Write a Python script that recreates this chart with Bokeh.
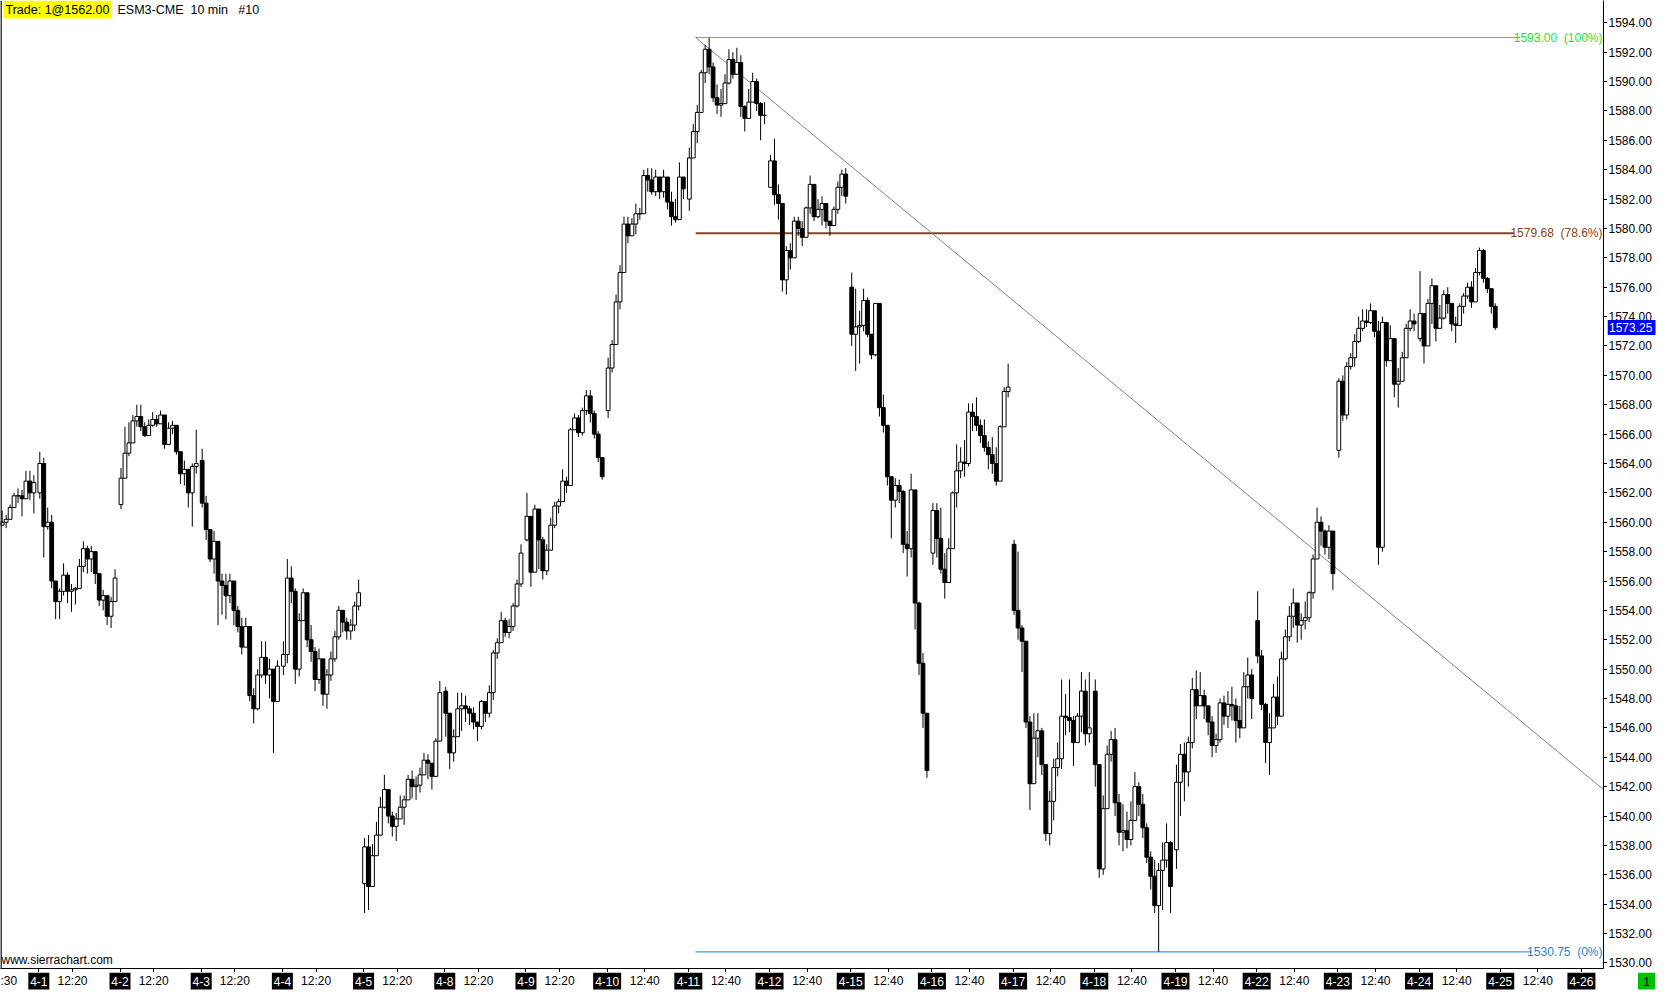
from bokeh.plotting import figure
from bokeh.layouts import column, row
from bokeh.models import Range1d, FixedTicker, Label, Span, ColumnDataSource
from bokeh.core.properties import value
from bokeh.embed import file_html
from bokeh.resources import INLINE

FONT = "Liberation Sans"

# x axis labels: one session label per trading day, plus one time label
day_names = ["4-1", "4-2", "4-3", "4-4", "4-5", "4-8", "4-9", "4-10", "4-11", "4-12",
             "4-15", "4-16", "4-17", "4-18", "4-19", "4-22", "4-23", "4-24", "4-25", "4-26"]
time_labels = ["12:20"] * 7 + ["12:40"] * 12
price_ticks = list(range(1530, 1596, 2))

# sessions drawn (3-28 only partly visible at the left edge)
sessions = ["3-28", "4-1", "4-2", "4-3", "4-4", "4-5", "4-8", "4-9", "4-10", "4-11",
            "4-12", "4-15", "4-16", "4-17", "4-18", "4-19", "4-22", "4-23", "4-24"]
first_slot = [11] + [0] * 18
n_slots = [9] + [20] * 18
day_open = [1559.8, 1562.0, 1561.2, 1564.2, 1550.2, 1535.4, 1548.5, 1558.8, 1567.6, 1582.0,
            1582.8, 1576.0, 1557.9, 1558.5, 1548.5, 1537.7, 1553.3, 1564.9, 1572.5]

close = [
    # 3-28
    1560.0, 1560.2, 1561.0, 1561.8, 1561.8, 1561.6, 1562.8, 1562.0, 1562.7,
    # 4-1
    1564.0, 1559.7, 1560.0, 1556.0, 1554.6, 1555.3, 1556.4, 1555.3, 1555.4, 1555.5,
    1557.0, 1558.2, 1557.5, 1558.0, 1556.5, 1554.7, 1555.0, 1553.6, 1554.6, 1556.2,
    # 4-2
    1563.0, 1564.7, 1565.4, 1566.9, 1567.2, 1566.5, 1565.9, 1566.6, 1567.0, 1566.7,
    1567.3, 1565.3, 1566.4, 1566.6, 1564.8, 1563.3, 1563.6, 1562.0, 1563.8, 1564.0,
    # 4-3
    1561.3, 1559.5, 1557.5, 1558.7, 1556.0, 1555.7, 1555.0, 1556.0, 1554.0, 1552.9,
    1551.5, 1552.9, 1548.2, 1547.3, 1549.6, 1550.8, 1549.6, 1550.0, 1547.8, 1550.2,
    # 4-4
    1551.0, 1556.2, 1555.3, 1550.0, 1553.3, 1555.2, 1552.0, 1551.2, 1549.3, 1550.7,
    1548.3, 1549.6, 1550.7, 1552.2, 1554.0, 1553.2, 1552.6, 1553.0, 1554.3, 1555.2,
    # 4-5
    1537.9, 1535.2, 1537.3, 1538.7, 1540.6, 1541.8, 1540.0, 1539.3, 1539.8, 1540.6,
    1541.1, 1542.5, 1542.0, 1542.1, 1542.8, 1543.8, 1543.6, 1542.7, 1545.1, 1548.4,
    # 4-8
    1547.0, 1544.3, 1545.4, 1547.3, 1547.5, 1547.3, 1547.0, 1546.4, 1546.1, 1547.8,
    1547.0, 1548.4, 1551.1, 1551.8, 1553.3, 1552.5, 1552.9, 1554.3, 1555.8, 1557.9,
    # 4-9
    1560.4, 1556.6, 1560.9, 1558.8, 1556.7, 1558.1, 1559.8, 1561.1, 1561.4, 1562.8,
    1562.5, 1566.3, 1567.1, 1566.1, 1567.6, 1568.6, 1567.4, 1566.0, 1564.4, 1563.1,
    # 4-10
    1570.5, 1572.1, 1575.0, 1577.0, 1580.3, 1579.5, 1580.3, 1581.0, 1581.0, 1583.6,
    1583.3, 1582.5, 1583.5, 1582.5, 1583.5, 1581.8, 1580.8, 1580.6, 1583.5, 1582.7,
    # 4-11
    1584.8, 1586.6, 1587.9, 1590.6, 1592.2, 1591.0, 1588.9, 1588.4, 1588.5, 1589.9,
    1591.5, 1590.5, 1591.3, 1588.3, 1587.5, 1588.6, 1590.0, 1588.5, 1587.7, 1587.7,
    # 4-12
    1584.6, 1582.3, 1581.7, 1576.5, 1578.5, 1578.0, 1580.5, 1580.0, 1579.4, 1581.4,
    1583.0, 1580.8, 1581.3, 1581.7, 1580.5, 1580.2, 1581.3, 1582.8, 1583.7, 1582.2,
    # 4-15
    1572.8, 1573.3, 1573.4, 1575.1, 1572.8, 1571.4, 1574.9, 1567.8, 1566.6, 1563.1,
    1561.5, 1562.5, 1562.1, 1558.5, 1558.2, 1562.2, 1554.5, 1550.4, 1547.0, 1543.1,
    # 4-16
    1560.8, 1558.9, 1556.8, 1555.9, 1558.2, 1562.0, 1563.5, 1564.1, 1564.0, 1567.5,
    1567.2, 1566.6, 1565.9, 1565.1, 1564.6, 1564.0, 1562.8, 1566.5, 1568.9, 1569.2,
    # 4-17
    1554.0, 1552.8, 1551.9, 1546.4, 1542.2, 1545.3, 1545.8, 1543.5, 1538.8, 1541.0,
    1543.3, 1543.9, 1546.8, 1546.7, 1546.5, 1545.0, 1546.8, 1548.5, 1545.6, 1546.0,
    # 4-18
    1543.5, 1536.4, 1540.5, 1544.2, 1545.2, 1540.9, 1538.9, 1539.0, 1538.4, 1539.7,
    1542.0, 1540.8, 1539.2, 1537.2, 1535.9, 1533.9, 1536.3, 1537.0, 1538.2, 1535.2,
    # 4-19
    1542.3, 1544.2, 1543.0, 1545.0, 1548.6, 1547.5, 1548.2, 1547.5, 1546.4, 1544.8,
    1545.2, 1547.7, 1546.8, 1547.6, 1547.5, 1546.5, 1546.0, 1548.8, 1549.6, 1548.0,
    # 4-22
    1550.9, 1547.6, 1545.0, 1546.0, 1548.1, 1546.8, 1550.7, 1552.2, 1553.6, 1554.5,
    1553.0, 1553.3, 1553.5, 1555.2, 1557.5, 1560.0, 1559.4, 1558.3, 1559.4, 1556.5,
    # 4-23
    1569.6, 1567.3, 1570.6, 1571.2, 1572.3, 1573.2, 1573.7, 1573.6, 1574.4, 1573.0,
    1558.3, 1573.6, 1571.0, 1572.5, 1569.4, 1569.6, 1571.2, 1573.2, 1573.7, 1573.5,
    # 4-24
    1574.2, 1572.0, 1574.9, 1576.1, 1573.2, 1573.9, 1575.5, 1574.9, 1573.5, 1573.4,
    1574.7, 1575.4, 1576.0, 1575.0, 1577.0, 1578.5, 1576.6, 1575.9, 1574.7, 1573.25,
]

high = [
    # 3-28
    1560.8, 1560.5, 1561.2, 1562.0, 1562.3, 1562.2, 1563.5, 1563.5, 1563.2,
    # 4-1
    1564.8, 1564.4, 1561.0, 1560.5, 1555.8, 1555.5, 1557.2, 1556.6, 1555.8, 1555.6,
    1557.5, 1558.7, 1558.4, 1558.4, 1557.0, 1556.5, 1555.4, 1554.9, 1554.9, 1556.8,
    # 4-2
    1563.7, 1566.5, 1566.8, 1567.3, 1568.0, 1568.0, 1566.8, 1567.0, 1567.5, 1567.3,
    1567.6, 1566.8, 1566.8, 1566.9, 1566.2, 1564.8, 1564.2, 1563.5, 1564.0, 1566.3,
    # 4-3
    1565.0, 1561.8, 1559.5, 1559.4, 1558.5, 1556.5, 1556.5, 1556.5, 1555.0, 1554.3,
    1553.5, 1553.5, 1551.5, 1548.7, 1550.0, 1551.9, 1551.9, 1550.7, 1550.0, 1550.6,
    # 4-4
    1551.9, 1557.5, 1557.0, 1555.5, 1553.8, 1555.5, 1555.0, 1553.0, 1551.5, 1551.4,
    1549.9, 1550.0, 1551.2, 1552.6, 1554.3, 1554.0, 1553.5, 1553.4, 1554.6, 1556.1,
    # 4-5
    1538.5, 1538.7, 1538.1, 1539.6, 1541.3, 1542.8, 1541.6, 1540.3, 1540.2, 1541.4,
    1541.4, 1542.8, 1543.1, 1542.7, 1543.3, 1544.3, 1544.2, 1543.2, 1545.3, 1549.2,
    # 4-8
    1548.8, 1547.0, 1545.9, 1548.4, 1548.4, 1548.2, 1547.5, 1547.4, 1546.4, 1547.9,
    1547.5, 1548.9, 1551.3, 1552.1, 1553.9, 1553.5, 1553.4, 1554.5, 1556.1, 1558.5,
    # 4-9
    1562.0, 1560.4, 1561.2, 1559.3, 1559.0, 1558.5, 1560.3, 1561.4, 1561.6, 1563.6,
    1563.1, 1566.4, 1567.4, 1567.3, 1567.8, 1569.0, 1569.0, 1567.6, 1566.2, 1564.4,
    # 4-10
    1571.2, 1572.4, 1575.5, 1577.5, 1580.8, 1580.8, 1580.7, 1581.7, 1581.4, 1584.0,
    1584.1, 1584.1, 1584.0, 1583.3, 1584.0, 1582.8, 1582.5, 1582.0, 1584.5, 1583.5,
    # 4-11
    1585.5, 1587.1, 1588.4, 1590.8, 1592.5, 1593.0, 1591.3, 1589.8, 1589.5, 1590.5,
    1592.2, 1592.0, 1592.3, 1591.8, 1588.4, 1589.5, 1590.6, 1590.2, 1588.6, 1588.6,
    # 4-12
    1585.0, 1586.1, 1583.0, 1580.8, 1578.8, 1579.0, 1580.8, 1580.8, 1580.5, 1581.5,
    1583.6, 1582.2, 1582.0, 1582.2, 1581.2, 1580.5, 1581.5, 1583.2, 1584.0, 1584.1,
    # 4-15
    1577.0, 1575.9, 1574.4, 1575.9, 1575.3, 1572.8, 1574.9, 1571.8, 1568.7, 1566.5,
    1563.1, 1563.0, 1562.9, 1562.2, 1559.4, 1563.3, 1558.9, 1554.6, 1551.1, 1547.0,
    # 4-16
    1561.3, 1561.3, 1561.0, 1557.9, 1558.9, 1562.1, 1565.3, 1565.1, 1565.6, 1568.1,
    1568.1, 1568.5, 1567.0, 1567.0, 1565.5, 1565.8, 1565.1, 1566.6, 1569.2, 1570.8,
    # 4-17
    1558.8, 1558.0, 1553.0, 1550.0, 1546.8, 1547.0, 1547.0, 1546.0, 1542.5, 1541.7,
    1543.9, 1545.0, 1549.3, 1548.3, 1549.3, 1546.8, 1547.0, 1549.8, 1549.3, 1549.8,
    # 4-18
    1549.3, 1542.0, 1541.4, 1544.8, 1545.8, 1546.0, 1541.5, 1540.8, 1540.3, 1541.0,
    1543.0, 1542.3, 1541.5, 1539.5, 1537.6, 1537.0, 1536.8, 1538.2, 1539.5, 1538.3,
    # 4-19
    1543.5, 1544.9, 1545.0, 1545.4, 1549.4, 1549.9, 1549.8, 1548.6, 1547.2, 1546.8,
    1545.6, 1548.0, 1548.2, 1548.5, 1548.8, 1548.0, 1547.5, 1549.8, 1550.8, 1550.0,
    # 4-22
    1555.3, 1551.3, 1547.7, 1547.0, 1549.0, 1549.5, 1551.2, 1552.7, 1554.3, 1555.5,
    1554.5, 1553.8, 1554.6, 1555.3, 1557.8, 1561.0, 1560.4, 1559.5, 1559.8, 1558.2,
    # 4-23
    1569.8, 1570.0, 1570.9, 1571.5, 1572.8, 1574.0, 1574.5, 1574.5, 1574.9, 1574.3,
    1573.7, 1574.0, 1573.0, 1573.4, 1572.3, 1570.5, 1571.6, 1573.5, 1574.5, 1574.2,
    # 4-24
    1577.1, 1574.2, 1575.2, 1576.6, 1576.0, 1574.8, 1575.8, 1576.0, 1574.8, 1574.0,
    1574.9, 1575.6, 1576.3, 1576.4, 1577.3, 1578.7, 1578.6, 1576.7, 1575.9, 1574.9,
]

low = [
    # 3-28
    1559.8, 1559.6, 1560.4, 1561.0, 1561.3, 1560.4, 1562.0, 1561.5, 1560.6,
    # 4-1
    1561.6, 1557.6, 1559.5, 1555.5, 1553.4, 1553.4, 1555.0, 1554.5, 1553.9, 1554.4,
    1555.8, 1556.6, 1556.5, 1556.6, 1555.8, 1554.3, 1554.0, 1553.0, 1552.8, 1555.0,
    # 4-2
    1560.9, 1563.3, 1564.5, 1565.6, 1566.5, 1566.2, 1565.8, 1566.1, 1566.5, 1566.5,
    1566.7, 1565.0, 1565.3, 1566.0, 1564.6, 1562.6, 1562.5, 1561.0, 1559.7, 1563.3,
    # 4-3
    1561.0, 1558.8, 1557.3, 1556.5, 1553.0, 1553.7, 1553.4, 1554.5, 1553.0, 1552.5,
    1551.0, 1551.5, 1547.8, 1546.3, 1547.2, 1549.4, 1549.0, 1548.0, 1544.3, 1548.6,
    # 4-4
    1549.6, 1550.4, 1554.5, 1549.0, 1549.5, 1553.3, 1551.5, 1550.5, 1548.5, 1549.0,
    1547.5, 1547.3, 1549.2, 1550.5, 1552.0, 1552.5, 1552.0, 1552.0, 1552.6, 1554.0,
    # 4-5
    1533.4, 1533.6, 1535.2, 1537.6, 1538.9, 1540.5, 1539.5, 1538.6, 1538.3, 1539.8,
    1539.4, 1541.3, 1541.2, 1541.1, 1541.6, 1542.9, 1542.5, 1541.8, 1542.8, 1545.1,
    # 4-8
    1545.4, 1543.2, 1543.7, 1545.4, 1545.8, 1546.4, 1546.2, 1545.9, 1545.1, 1545.9,
    1546.4, 1546.7, 1547.9, 1550.7, 1551.8, 1552.2, 1552.1, 1552.6, 1554.2, 1555.6,
    # 4-9
    1558.7, 1555.6, 1558.0, 1556.8, 1556.1, 1556.4, 1558.4, 1559.6, 1560.6, 1561.7,
    1562.0, 1562.9, 1566.3, 1565.8, 1565.9, 1567.3, 1566.8, 1565.7, 1564.1, 1562.9,
    # 4-10
    1567.1, 1570.2, 1573.2, 1574.5, 1578.1, 1579.0, 1579.8, 1579.6, 1580.6, 1582.0,
    1582.5, 1582.3, 1582.2, 1582.0, 1582.1, 1581.3, 1580.2, 1580.4, 1582.3, 1582.0,
    # 4-11
    1581.2, 1584.8, 1585.8, 1588.5, 1589.9, 1590.5, 1588.6, 1587.8, 1587.6, 1589.2,
    1589.8, 1590.2, 1590.5, 1587.6, 1586.6, 1587.9, 1589.0, 1588.0, 1586.0, 1587.1,
    # 4-12
    1582.8, 1581.6, 1580.6, 1575.7, 1575.5, 1577.2, 1578.5, 1579.5, 1578.8, 1580.2,
    1581.0, 1580.5, 1580.7, 1580.2, 1580.0, 1579.5, 1580.4, 1581.0, 1582.2, 1581.7,
    # 4-15
    1572.0, 1570.3, 1570.8, 1573.0, 1572.6, 1571.1, 1571.3, 1567.2, 1566.1, 1562.5,
    1558.9, 1561.0, 1561.3, 1557.9, 1556.3, 1557.6, 1552.7, 1549.6, 1546.0, 1542.6,
    # 4-16
    1557.1, 1557.6, 1556.5, 1554.8, 1556.1, 1558.7, 1561.0, 1563.0, 1563.1, 1563.8,
    1566.2, 1566.2, 1565.4, 1564.8, 1563.6, 1563.3, 1562.5, 1564.0, 1566.6, 1568.5,
    # 4-17
    1553.7, 1552.0, 1549.8, 1546.0, 1540.4, 1542.2, 1544.0, 1542.8, 1538.3, 1538.0,
    1539.7, 1542.7, 1543.2, 1545.5, 1545.7, 1543.4, 1545.2, 1545.7, 1544.8, 1545.0,
    # 4-18
    1542.0, 1535.8, 1536.0, 1540.5, 1543.7, 1540.0, 1538.0, 1537.6, 1537.8, 1538.0,
    1540.5, 1540.0, 1538.5, 1536.8, 1535.0, 1533.4, 1530.75, 1533.6, 1536.5, 1533.4,
    # 4-19
    1536.4, 1540.0, 1541.0, 1542.0, 1544.6, 1546.6, 1547.5, 1546.6, 1545.5, 1544.0,
    1544.3, 1545.0, 1546.2, 1546.0, 1546.5, 1545.0, 1545.3, 1546.5, 1548.0, 1546.6,
    # 4-22
    1550.4, 1547.2, 1543.6, 1542.8, 1546.5, 1546.2, 1548.5, 1550.6, 1551.9, 1552.8,
    1551.8, 1552.0, 1552.7, 1553.2, 1554.8, 1558.6, 1558.4, 1557.8, 1557.5, 1555.4,
    # 4-23
    1564.4, 1566.9, 1567.0, 1570.4, 1570.6, 1572.2, 1573.0, 1573.3, 1573.5, 1572.6,
    1557.1, 1558.0, 1570.6, 1571.4, 1568.5, 1567.8, 1570.5, 1571.2, 1573.0, 1573.0,
    # 4-24
    1572.3, 1570.8, 1572.0, 1573.5, 1572.3, 1573.5, 1573.8, 1574.2, 1573.0, 1572.2,
    1573.5, 1574.2, 1575.2, 1574.6, 1575.8, 1576.8, 1576.3, 1575.6, 1574.2, 1573.1,
]

# drawing tools on the chart
fib_prices = [1593.00, 1579.68, 1530.75]
fib_pcts = ["100%", "78.6%", "0%"]
trend_x = [331.7, 790.15]      # bar index
trend_y = [1593.0, 1541.8]
last_price = 1573.25

BARS_PER_DAY = 41   # 9:30 .. 16:10, 10 min bars

# candle positions: each candle covers two 10-min slots
xs, opens = [], []
i = 0
for d, (k0, n) in enumerate(zip(first_slot, n_slots)):
    for k in range(k0, k0 + n):
        xs.append(BARS_PER_DAY * (d - 1) + 2 * k + 0.5)
        opens.append(day_open[d] if k == k0 else close[i - 1])
        i += 1

src = ColumnDataSource(dict(
    x=xs, high=high, low=low,
    top=[max(o, c) for o, c in zip(opens, close)],
    bottom=[min(o, c) for o, c in zip(opens, close)],
    fill=["white" if c >= o else "black" for o, c in zip(opens, close)],
))

day_ticks = [BARS_PER_DAY * d for d in range(len(day_names))]
time_ticks = []
for d, t in enumerate(time_labels):
    hh, mm = t.split(":")
    time_ticks.append(BARS_PER_DAY * d + (int(hh) * 60 + int(mm) - 570) // 10)

FW, FH = 1603, 968          # price pane
TICK = 4
X0, X1 = -19.35, 790.15
Y0, Y1 = 1529.62, 1595.52
px_per_bar = FW / (X1 - X0)
px_per_pt = FH / (Y1 - Y0)

# ---- price pane
p = figure(frame_width=FW, frame_height=FH, output_backend="svg", toolbar_location=None,
           x_range=Range1d(X0, X1), y_range=Range1d(Y0, Y1),
           y_axis_location="right", min_border=0)
p.grid.visible = False
p.outline_line_color = None
p.background_fill_color = "white"
p.border_fill_color = "white"

for ax, ticks in ((p.yaxis, price_ticks), (p.xaxis, day_ticks + time_ticks)):
    ax.ticker = FixedTicker(ticks=ticks)
    ax.major_label_overrides = {t: "" for t in ticks}
    ax.minor_tick_line_color = None
    ax.major_tick_in = 0
    ax.major_tick_out = TICK
    ax.major_label_standoff = 0
    ax.axis_line_color = "black"
    ax.major_label_text_font_size = "1px"

p.add_layout(Span(location=-19.1, dimension="height", line_color="black", line_width=1.5))

# fib retracement and trend line
fib_colors = ["#1ee61e", "#8b4513", "#1a86d0"]
fib_ends = [748.0, 745.0, 754.0]
for price, pct, col, xe in zip(fib_prices, fib_pcts, fib_colors, fib_ends):
    p.segment(x0=[trend_x[0]], y0=[price], x1=[xe], y1=[price], line_color=col,
              line_width=2 if pct == "78.6%" else 1)
    p.add_layout(Label(x=FW - 1, y=price, x_units="screen", text=f"{price:.2f}\u00a0\u00a0({pct})",
                       text_align="right", text_baseline="middle", text_color=col,
                       text_font=FONT, text_font_size="12px"))
p.line(trend_x, trend_y, line_color="#808080", line_width=1)

# candles
p.segment(x0="x", y0="high", x1="x", y1="low", source=src, line_color="black", line_width=1)
p.vbar(x="x", width=1.9, top="top", bottom="bottom", source=src,
       fill_color="fill", line_color="black", line_width=1)

# header and footer texts
p.add_layout(Label(x=3, y=FH - 9, x_units="screen", y_units="screen", text="Trade: 1@1562.00",
                   text_baseline="middle", text_font=FONT, text_font_size="12.5px",
                   text_color="black", background_fill_color="#ffff00", padding=2))
p.add_layout(Label(x=117, y=FH - 9, x_units="screen", y_units="screen",
                   text="ESM3-CME\u00a0\u00a010 min\u00a0\u00a0\u00a0#10",
                   text_baseline="middle", text_font=FONT, text_font_size="12.5px",
                   text_color="black"))
p.add_layout(Label(x=1, y=2, x_units="screen", y_units="screen", text="www.sierrachart.com",
                   text_baseline="bottom", text_font=FONT, text_font_size="12px", text_color="black"))

# ---- price scale column on the right (same scale, runs down past the x axis ticks)
RW = 1660 - FW - TICK
r = figure(frame_width=RW, frame_height=FH + TICK, output_backend="svg", toolbar_location=None,
           x_range=Range1d(0, RW), y_range=Range1d(Y0 - TICK / px_per_pt, Y1), min_border=0)
r.axis.visible = False
r.grid.visible = False
r.outline_line_color = None
r.text(x=[1] * len(price_ticks), y=price_ticks, text=[f"{t:.2f}" for t in price_ticks],
       text_font=value(FONT), text_font_size="12px", text_baseline="middle", text_color="black")
r.rect(x=[24], y=[last_price], width=48, height=15, height_units="screen",
       fill_color="#0000ff", line_color=None)
r.text(x=[1.5], y=[last_price], text=[f"{last_price:.2f}"], text_font=value(FONT),
       text_font_size="12px", text_baseline="middle", text_color="white")

# ---- date / time strip under the price pane
BH = 18
b = figure(frame_width=1660, frame_height=BH, output_backend="svg", toolbar_location=None,
           x_range=Range1d(X0, X0 + 1660 / px_per_bar), y_range=Range1d(0, BH), min_border=0)
b.axis.visible = False
b.grid.visible = False
b.outline_line_color = None
b.rect(x=day_ticks, y=[9.5] * len(day_ticks), width=[7 * len(n) for n in day_names],
       width_units="screen", height=17, height_units="screen", fill_color="black", line_color=None)
b.text(x=day_ticks, y=[9.5] * len(day_ticks), text=day_names, text_font=value(FONT),
       text_font_size="12px", text_align="center", text_baseline="middle", text_color="white")
b.text(x=time_ticks, y=[9.5] * len(time_ticks), text=time_labels, text_font=value(FONT),
       text_font_size="12px", text_align="center", text_baseline="middle", text_color="black")
b.text(x=[X0], y=[9.5], text=[":30"], text_font=value(FONT), text_font_size="12px",
       text_baseline="middle", text_color="black")
gx = X0 + 1646 / px_per_bar
b.rect(x=[gx], y=[9.5], width=17, width_units="screen", height=17, height_units="screen",
       fill_color="#00c000", line_color=None)
b.text(x=[gx], y=[9.5], text=["1"], text_font=value(FONT), text_font_size="12px",
       text_align="center", text_baseline="middle", text_color="black")

layout = column(row(p, r), b)
open("out.html", "w").write(file_html(layout, INLINE))
